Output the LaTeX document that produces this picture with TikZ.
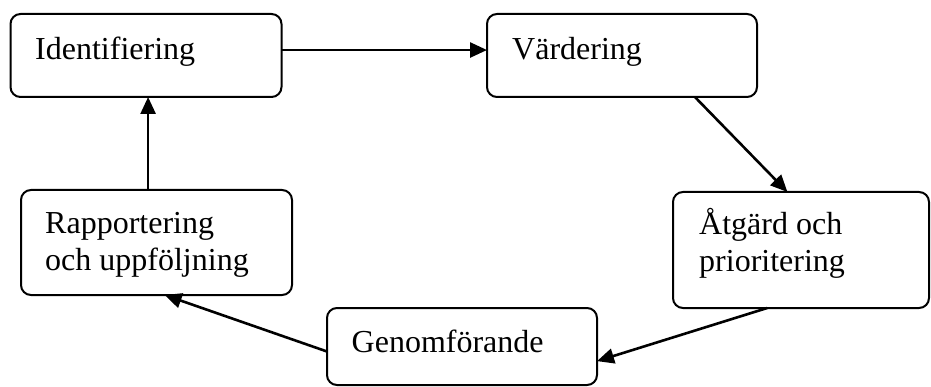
\documentclass[tikz,border=0pt]{standalone}
\usepackage{fontspec}
\setmainfont{Liberation Serif}
\usetikzlibrary{arrows.meta,calc}
\tikzset{
  box/.style={draw, line width=2pt, rounded corners=10pt, rectangle, anchor=north west, inner sep=0pt, outer sep=0pt},
  lbl/.style={anchor=base west, inner sep=0pt, align=left, font=\fontsize{32}{37}\selectfont},
  conn/.style={line width=2.6pt, -{Triangle[length=17pt,width=15pt]}}
}
\begin{document}
\begin{tikzpicture}[x=1pt,y=-1pt]
\useasboundingbox (0,0) rectangle (931,387);
\node[box, minimum width=271pt, minimum height=83pt] (b1) at (10.5,14) {};
\node[box, minimum width=270pt, minimum height=83pt] (b2) at (487,14) {};
\node[box, minimum width=256pt, minimum height=116pt] (b3) at (673,192) {};
\node[box, minimum width=270pt, minimum height=77pt] (b4) at (327,308) {};
\node[box, minimum width=271pt, minimum height=105pt] (b5) at (21,190) {};
\node[lbl] (t1) at (35,60) {Identifiering};
\node[lbl] (t2) at (512,60) {Värdering};
\node[lbl] (t3) at (699,271.5) {Åtgärd och\\prioritering};
\node[lbl] (t4) at (351.5,352) {Genomförande};
\node[lbl] (t5) at (45,271) {Rapportering\\och uppföljning};
\coordinate (a1) at ($(b1.north east)!0.434!(b1.south east)$);
\draw[conn] (a1) -- (a1 -| b2.west);
\draw[conn] ($(b2.south west)!0.77!(b2.south east)$) -- ($(b3.north west)!0.447!(b3.north east)$);
\draw[conn] ($(b3.south west)!0.368!(b3.south east)$) -- ($(b4.north east)!0.69!(b4.south east)$);
\draw[conn] ($(b4.north west)!0.565!(b4.south west)$) -- ($(b5.south west)!0.53!(b5.south east)$);
\coordinate (a5) at ($(b5.north west)!0.469!(b5.north east)$);
\draw[conn] (a5) -- (a5 |- b1.south);
\end{tikzpicture}
\end{document}
